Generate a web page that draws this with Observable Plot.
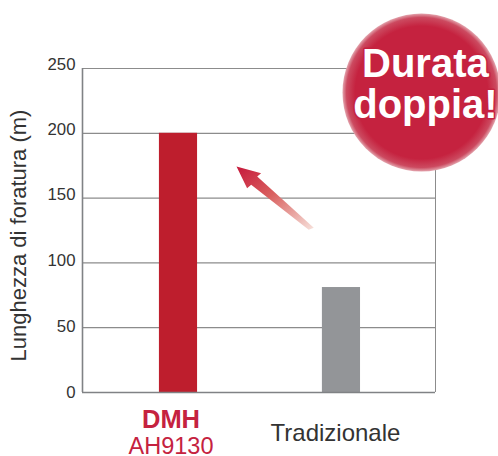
<!DOCTYPE html>
<html><head><meta charset="utf-8">
<style>html,body{margin:0;padding:0;background:#fff}svg{display:block}</style>
<script src="https://cdn.jsdelivr.net/npm/d3@7"></script>
<script src="https://cdn.jsdelivr.net/npm/@observablehq/plot@0.6"></script>
</head><body>
<script>
const FONT = "'Liberation Sans', Arial, sans-serif";
const categories = ["DMH", "Tradizionale"];
const values = [200, 81];
const barColors = ["#be1e2d", "#939598"];
const yTicks = [0, 50, 100, 150, 200, 250];
const yTickNudge = [0, -1.5, -2, -3, -3.5, -4];
const gridTicks = [50, 100, 150, 200];
const arrowX = [0.356, 0.507, 0.483, 0.830, 0.799, 0.446, 0.421];
const arrowY = [174.4, 169.2, 166.7, 127.1, 125.5, 160.3, 157.6];
const badgeLines = ["Durata", "doppia!"];
const badgeLineX = [1.515, 1.515];
const badgeLineY = [253, 222];
const bars = categories.map((c, i) => ({c, i, v: values[i], color: barColors[i]}));
const arrow = arrowX.map((x, i) => ({x, y: arrowY[i]}));

const defs = () => {
  const s = d3.create("svg:defs");
  const a = s.append("linearGradient").attr("id", "arrowGrad")
    .attr("x1", "0").attr("y1", "0").attr("x2", "1").attr("y2", "1");
  a.append("stop").attr("offset", "0.05").attr("stop-color", "#c8203f");
  a.append("stop").attr("offset", "0.45").attr("stop-color", "#d9605f");
  a.append("stop").attr("offset", "1").attr("stop-color", "#f7e2dc");
  const b = s.append("radialGradient").attr("id", "badgeGrad");
  b.append("stop").attr("offset", "0.84").attr("stop-color", "#c5223f");
  b.append("stop").attr("offset", "0.95").attr("stop-color", "#cc4a60");
  b.append("stop").attr("offset", "1").attr("stop-color", "#e3a5ae");
  return s.node();
};

const tickStyle = {tickSize: 0, tickPadding: 7, fontSize: 16.8, color: "#333", label: null};

const plot = Plot.plot({
  width: 498, height: 456,
  marginLeft: 82, marginRight: 63, marginTop: 68, marginBottom: 64,
  style: {fontFamily: FONT, background: "#fff"},
  x: {type: "linear", domain: [-0.589, 1.577], axis: null},
  y: {domain: [0, 250], axis: null},
  marks: [
    defs,
    Plot.ruleY(gridTicks, {stroke: "#8c8c8c", strokeWidth: 1.2}),
    Plot.ruleY([250], {stroke: "#8c8c8c", strokeWidth: 1}),
    Plot.ruleX([1.577], {stroke: "#8c8c8c", strokeWidth: 1}),
    Plot.rectY(bars, {x1: d => d.i - 0.117, x2: d => d.i + 0.117, y: "v", fill: "color", inset: 0}),
    Plot.ruleY([0], {stroke: "#808285", strokeWidth: 1.6}),
    Plot.ruleX([-0.589], {stroke: "#808285", strokeWidth: 1.6}),
    ...yTicks.map((t, i) => Plot.axisY({...tickStyle, ticks: [t], dy: yTickNudge[i]})),
    Plot.text(["Lunghezza di foratura (m)"], {
      frameAnchor: "left", textAnchor: "middle", dx: -64, dy: 5, rotate: -90, fontSize: 22, fill: "#333"
    }),
    Plot.line(arrow, {x: "x", y: "y", curve: "linear-closed", fill: "url(#arrowGrad)", stroke: "none"}),
    Plot.dot([0], {x: [1.491], y: [231.5], r: 79, fill: "url(#badgeGrad)", stroke: "none"}),
    Plot.text(badgeLines, {
      x: badgeLineX, y: badgeLineY, text: d => d,
      fontSize: 40, fontWeight: "bold", fill: "#fff", stroke: "#c5223f", strokeWidth: 3,
      textAnchor: "middle"
    }),
    Plot.text(["DMH"], {x: [0], y: [0], dx: -7.5, dy: 27, fontSize: 25.5, fontWeight: "bold", fill: "#c5223f", lineAnchor: "middle"}),
    Plot.text(["AH9130"], {x: [0], y: [0], dx: -7.5, dy: 54, fontSize: 23.5, fill: "#c5223f", lineAnchor: "middle"}),
    Plot.text(["Tradizionale"], {x: [1], y: [0], dy: 41, dx: -6, fontSize: 24, fill: "#333", lineAnchor: "middle"})
  ]
});
document.body.append(plot);
</script>
</body></html>
